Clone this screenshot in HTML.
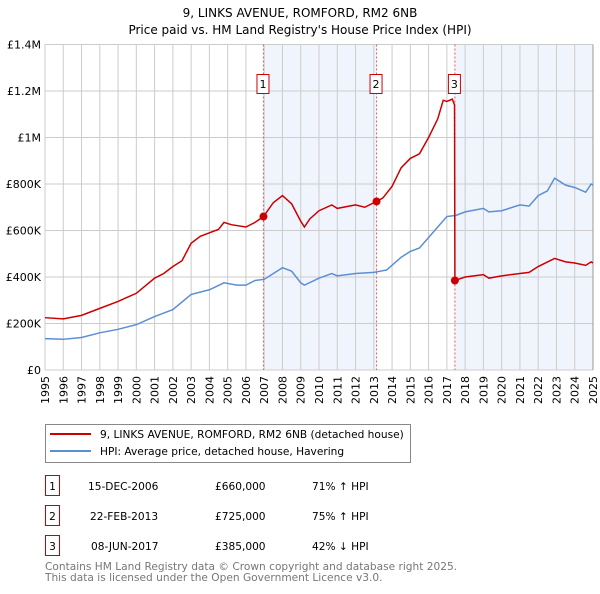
<!DOCTYPE html>
<html><head><meta charset="utf-8"><style>
body{margin:0;background:#fff;font-family:"DejaVu Sans","Liberation Sans",sans-serif;}
svg text{font-family:"DejaVu Sans","Liberation Sans",sans-serif;}
</style></head><body>
<svg id="c" width="600" height="590" xmlns="http://www.w3.org/2000/svg">
<text x="300" y="17" text-anchor="middle" font-size="12">9, LINKS AVENUE, ROMFORD, RM2 6NB</text>
<text x="300" y="34" text-anchor="middle" font-size="12">Price paid vs. HM Land Registry's House Price Index (HPI)</text>
<g id="plot"></g>
<rect x="45.5" y="424.5" width="365" height="38" fill="#fff" stroke="#888"/>
<line x1="50" y1="434" x2="91" y2="434" stroke="#cc0000" stroke-width="2"/>
<text x="100" y="438" font-size="10.6">9, LINKS AVENUE, ROMFORD, RM2 6NB (detached house)</text>
<line x1="50" y1="451" x2="91" y2="451" stroke="#5b8fd4" stroke-width="2"/>
<text x="100" y="455" font-size="10.6">HPI: Average price, detached house, Havering</text>
<g font-size="10.6">
<rect x="45.5" y="475.5" width="14" height="20" fill="none" stroke="#cc0000"/><text x="52.5" y="490" text-anchor="middle">1</text>
<text x="88" y="490">15-DEC-2006</text><text x="215" y="490">£660,000</text><text x="312" y="490">71% ↑ HPI</text>
<rect x="45.5" y="505.5" width="14" height="20" fill="none" stroke="#cc0000"/><text x="52.5" y="520" text-anchor="middle">2</text>
<text x="90" y="520">22-FEB-2013</text><text x="215" y="520">£725,000</text><text x="312" y="520">75% ↑ HPI</text>
<rect x="45.5" y="535.5" width="14" height="20" fill="none" stroke="#cc0000"/><text x="52.5" y="550" text-anchor="middle">3</text>
<text x="91" y="550">08-JUN-2017</text><text x="215" y="550">£385,000</text><text x="312" y="550">42% ↓ HPI</text>
</g>
<text x="45" y="570" font-size="10.6" fill="#777">Contains HM Land Registry data © Crown copyright and database right 2025.</text>
<text x="45" y="581" font-size="10.6" fill="#777">This data is licensed under the Open Government Licence v3.0.</text>
</svg>
<script>
const hpiYears=[1995,1996,1997,1998,1999,2000,2001,2002,2003,2004,2004.8,2005.5,2006,2006.5,2007,2008,2008.5,2009,2009.2,2010,2010.7,2011,2012,2013,2013.7,2014.5,2015,2015.5,2016,2016.5,2017,2017.5,2018,2019,2019.3,2020,2021,2021.5,2022,2022.5,2022.9,2023.5,2024,2024.6,2024.9,2025];
const hpiValues=[135000,132000,140000,160000,175000,195000,230000,260000,325000,345000,375000,365000,365000,385000,390000,440000,425000,375000,365000,395000,415000,405000,415000,420000,430000,485000,510000,525000,570000,615000,660000,665000,680000,695000,680000,685000,710000,705000,750000,770000,825000,795000,785000,765000,800000,795000];
const redYears=[1995,1996,1997,1998,1999,2000,2001,2001.5,2002,2002.5,2003,2003.5,2004,2004.5,2004.8,2005.2,2006,2006.5,2006.96,2007.5,2008,2008.5,2009,2009.2,2009.5,2010,2010.7,2011,2012,2012.5,2013.15,2013.5,2014,2014.5,2015,2015.5,2016,2016.5,2016.8,2017,2017.3,2017.42,2017.44,2018,2019,2019.3,2020,2021,2021.5,2022,2022.9,2023.5,2024,2024.6,2024.9,2025];
const redValues=[225000,220000,235000,265000,295000,330000,395000,415000,445000,470000,545000,575000,590000,605000,635000,625000,615000,635000,660000,720000,750000,715000,640000,615000,650000,685000,710000,695000,710000,700000,725000,740000,790000,870000,910000,930000,1000000,1080000,1160000,1155000,1165000,1140000,385000,400000,410000,395000,405000,415000,420000,445000,480000,465000,460000,450000,465000,460000];
const saleYears=[2006.96,2013.15,2017.44];
const salePrices=[660000,725000,385000];
const saleLabels=["1","2","3"];
const yTicks=[0,200000,400000,600000,800000,1000000,1200000,1400000];
const yTickLabels=["£0","£200K","£400K","£600K","£800K","£1M","£1.2M","£1.4M"];
const xTicks=[1995,1996,1997,1998,1999,2000,2001,2002,2003,2004,2005,2006,2007,2008,2009,2010,2011,2012,2013,2014,2015,2016,2017,2018,2019,2020,2021,2022,2023,2024,2025];

const X0=45,X1=593,Y0=370,Y1=44.5;
const xs=y=>X0+(y-1995)/30*(X1-X0);
const ys=v=>Y0-v/1400000*(Y0-Y1);
const NS="http://www.w3.org/2000/svg";
const g=document.getElementById('plot');
function mk(t,a,p){const e=document.createElementNS(NS,t);for(const k in a)e.setAttribute(k,a[k]);(p||g).appendChild(e);return e;}

mk('rect',{x:X0,y:Y1,width:X1-X0,height:Y0-Y1,fill:'#fff'});
const sh1=mk('rect',{x:xs(saleYears[0]),y:Y1,width:xs(saleYears[1])-xs(saleYears[0]),height:Y0-Y1,fill:'#f0f4fd'});


const sh2=mk('rect',{x:xs(saleYears[2]),y:Y1,width:X1-xs(saleYears[2]),height:Y0-Y1,fill:'#f0f4fd'});



yTicks.forEach((v,i)=>{
  const l=mk('line',{x1:X0,x2:X1,y1:ys(v),y2:ys(v),stroke:'#ccc'});
  
  
  const t=mk('text',{x:X0-4,y:ys(v)+4,'text-anchor':'end','font-size':11});
  t.textContent=yTickLabels[i];
  
  
});
xTicks.forEach(y=>{
  const l=mk('line',{x1:xs(y),x2:xs(y),y1:Y1,y2:Y0,stroke:'#ccc'});
  
  
  const t=mk('text',{x:0,y:0,'font-size':11,'text-anchor':'end',transform:`translate(${xs(y)+4},${Y0+6}) rotate(-90)`});
  t.textContent=y;
  
  
});
mk('line',{x1:X1,x2:X1,y1:Y1,y2:Y0,stroke:'#999'});

saleYears.forEach((y,i)=>{
  const l=mk('line',{x1:xs(y),x2:xs(y),y1:Y1,y2:Y0,stroke:'#e06060','stroke-dasharray':'2,2'});
  
  
  const r=mk('rect',{x:xs(y)-6.5,y:74.5,width:12,height:19,fill:'#fff',stroke:'#cc0000'});
  
  
  const t=mk('text',{x:xs(y)-0.5,y:88,'text-anchor':'middle','font-size':11});
  t.textContent=saleLabels[i];
  
  
});

const hp=mk('polyline',{points:hpiYears.map((y,i)=>xs(y)+','+ys(hpiValues[i])).join(' '),fill:'none',stroke:'#5b8fd4','stroke-width':1.5});


const rp=mk('polyline',{points:redYears.map((y,i)=>xs(y)+','+ys(redValues[i])).join(' '),fill:'none',stroke:'#cc0000','stroke-width':1.5});


saleYears.forEach((y,i)=>{
  const c=mk('circle',{cx:xs(y),cy:ys(salePrices[i]),r:4,fill:'#cc0000'});
  
  
});
</script>
</body></html>
